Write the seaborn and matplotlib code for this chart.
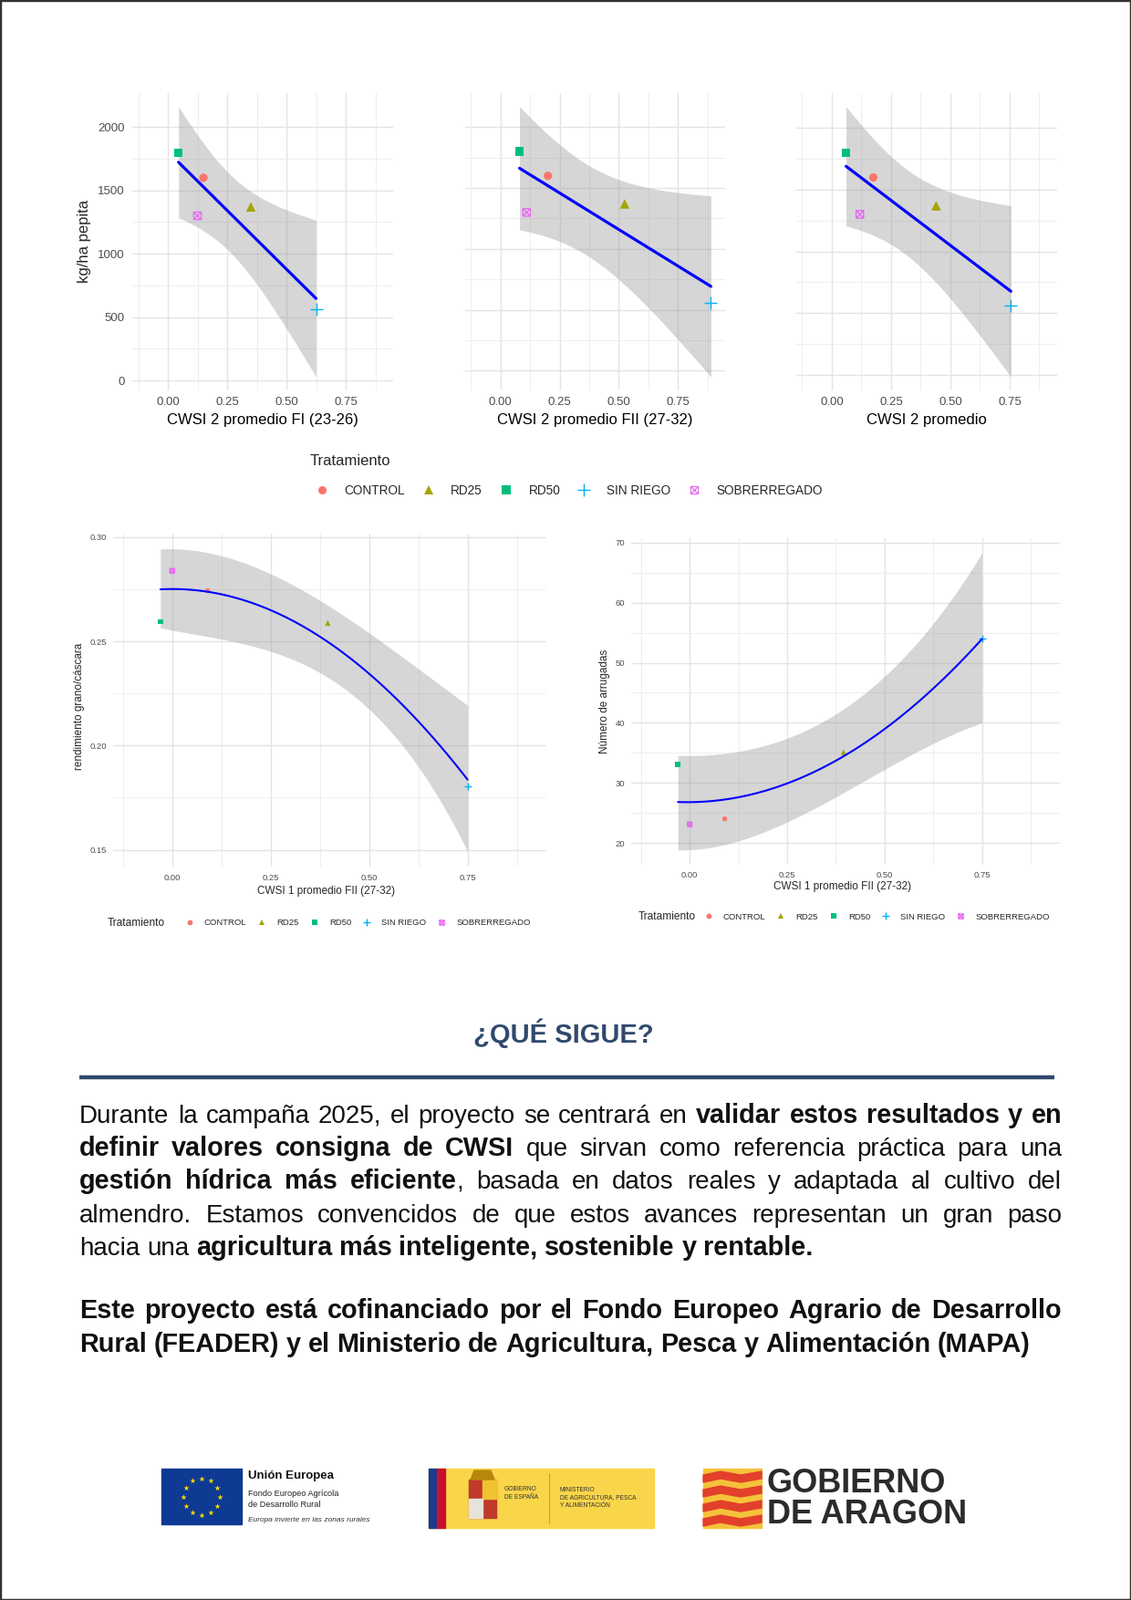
import numpy as np
import matplotlib
matplotlib.use('Agg')
import matplotlib.pyplot as plt
import seaborn as sns
from matplotlib.path import Path
from matplotlib.lines import Line2D
from matplotlib.patches import Rectangle, Polygon

sns.set_theme(style='white')
plt.rcParams['font.family'] = ['Liberation Sans', 'DejaVu Sans']

W, H = 1240, 1754

# datos por tratamiento
tratamientos = ['CONTROL', 'RD25', 'RD50', 'SIN RIEGO', 'SOBRERREGADO']
colores = ['#F8766D', '#A3A500', '#00BF7D', '#00B0F6', '#E76BF3']

kg_ha_pepita = [1600, 1370, 1800, 560, 1300]
cwsi2_fi = [0.15, 0.35, 0.045, 0.625, 0.125]
cwsi2_fii = [0.20, 0.525, 0.08, 0.89, 0.11]
cwsi2_prom = [0.175, 0.44, 0.06, 0.755, 0.118]

cwsi1_fii = [0.09, 0.395, -0.03, 0.75, 0.0]
rend_grano = [0.2743, 0.2588, 0.2594, 0.1803, 0.2838]
n_arrugadas = [24.0, 35.1, 33.1, 54.0, 23.1]

# curvas de ajuste (polinomio grado 2) y su banda
x_curva = [-0.03, 0.0, 0.125, 0.25, 0.375, 0.5, 0.625, 0.75]
rend_ajuste = [0.2750, 0.2750, 0.2725, 0.2649, 0.2522, 0.2347, 0.2114, 0.1837]
rend_inf = [0.2555, 0.2555, 0.2533, 0.2446, 0.2330, 0.2170, 0.1924, 0.1481]
rend_sup = [0.2943, 0.2943, 0.2910, 0.2823, 0.2700, 0.2533, 0.2373, 0.2192]
arr_ajuste = [26.8, 26.75, 27.65, 30.0, 33.65, 38.9, 45.65, 54.0]
arr_inf = [18.9, 18.9, 20.15, 23.4, 27.9, 32.4, 36.15, 40.15]
arr_sup = [34.5, 34.6, 35.15, 37.65, 41.4, 47.4, 56.9, 68.15]

# marcador cuadrado con aspa (shape 7 de ggplot)
caja_x = Path([(-1, -1), (1, -1), (1, 1), (-1, 1), (-1, -1), (-1, -1), (1, 1), (-1, 1), (1, -1)],
              [Path.MOVETO, Path.LINETO, Path.LINETO, Path.LINETO, Path.LINETO,
               Path.MOVETO, Path.LINETO, Path.MOVETO, Path.LINETO])
marcadores = ['o', '^', 's', '+', caja_x]

T975 = {2: 4.303, 3: 3.182}

fig = plt.figure(figsize=(W / 100, H / 100), dpi=100)
fig.patch.set_facecolor('white')


def caja(x0, y0, x1, y1):
    return [x0 / W, 1 - y1 / H, (x1 - x0) / W, (y1 - y0) / H]


def ajuste_lineal(x, y, n=120):
    x = np.asarray(x, float)
    y = np.asarray(y, float)
    X = np.vander(x, 2)
    coef = np.linalg.lstsq(X, y, rcond=None)[0]
    gl = len(x) - 2
    res = y - X @ coef
    cov = (res @ res / gl) * np.linalg.inv(X.T @ X)
    xs = np.linspace(x.min(), x.max(), n)
    Xs = np.vander(xs, 2)
    pred = Xs @ coef
    se = np.sqrt(np.einsum('ij,jk,ik->i', Xs, cov, Xs))
    return xs, pred, pred - T975[gl] * se, pred + T975[gl] * se


def suavizar(xc, ajuste, inf, sup, n=120):
    # curva y banda leídas, alisadas con un polinomio
    xs = np.linspace(min(xc), max(xc), n)
    return (xs,
            np.polyval(np.polyfit(xc, ajuste, 2), xs),
            np.polyval(np.polyfit(xc, inf, 3), xs),
            np.polyval(np.polyfit(xc, sup, 3), xs))


def puntos(ax, xs, ys, s):
    for c, m, xv, yv in zip(colores, marcadores, xs, ys):
        if m == '+':
            ax.scatter([xv], [yv], marker='+', color=c, s=s * 2.4, linewidths=1.0, zorder=3)
        elif m is caja_x:
            ax.scatter([xv], [yv], marker=caja_x, facecolors='none', edgecolors=c,
                       s=s * 0.8, linewidths=1.0, zorder=3)
        else:
            sns.scatterplot(x=[xv], y=[yv], marker=m, color=c, s=s * (1.3 if m == '^' else 1.0),
                            edgecolor='none', ax=ax, zorder=3, legend=False)


def panel(ax, x, y, curva, lw, s, ymaj, ymin, fs_tick, pad_y, pad_x, etiquetas_y=True, fmt='{:.0f}'):
    xs, pred, lo, hi = [np.asarray(v, float) for v in curva]
    ax.fill_between(xs, lo, hi, color='#999999', alpha=0.4, lw=0, zorder=1)
    puntos(ax, x, y, s)
    sns.lineplot(x=xs, y=pred, color='#0000FF', lw=lw, ax=ax, zorder=4)
    a = min(lo.min(), min(y))
    b = max(hi.max(), max(y))
    pad = 0.05 * (b - a)
    ax.set_ylim(a - pad, b + pad)
    ax.set_xlim(-0.15, 0.95)
    ax.set_xticks([0, 0.25, 0.5, 0.75])
    ax.set_xticklabels(['0.00', '0.25', '0.50', '0.75'])
    ax.set_xticks([-0.125, 0.125, 0.375, 0.625, 0.875], minor=True)
    ax.set_yticks(ymaj)
    ax.set_yticklabels([fmt.format(v) for v in ymaj])
    ax.set_yticks(ymin, minor=True)
    ax.grid(which='major', color='#e4e4e4', lw=1.0)
    ax.grid(which='minor', color='#eeeeee', lw=0.7)
    ax.set_axisbelow(True)
    for sp in ax.spines.values():
        sp.set_visible(False)
    ax.set_facecolor('white')
    ax.tick_params(which='both', length=0, labelsize=fs_tick, labelcolor='#4d4d4d')
    ax.tick_params(axis='y', pad=pad_y, labelleft=etiquetas_y)
    ax.tick_params(axis='x', pad=pad_x)
    ax.set_xlabel('')
    ax.set_ylabel('')


def manejadores(ms):
    hs = []
    for c, m in zip(colores, marcadores):
        if m == '+':
            hs.append(Line2D([], [], marker='+', color=c, linestyle='', markersize=ms * 1.5, markeredgewidth=1.0))
        elif m is caja_x:
            hs.append(Line2D([], [], marker=caja_x, color=c, markerfacecolor='none', linestyle='',
                             markersize=ms * 0.9, markeredgewidth=0.9))
        else:
            hs.append(Line2D([], [], marker=m, color=c, linestyle='', markersize=ms, markeredgewidth=0))
    return hs


# ---- fila superior: kg/ha pepita ----
superiores = [(145, 431, cwsi2_fi, 'CWSI 2 promedio FI (23-26)'),
              (510, 795, cwsi2_fii, 'CWSI 2 promedio FII (27-32)'),
              (873, 1159, cwsi2_prom, 'CWSI 2 promedio')]
for i, (x0, x1, xv, etiqueta) in enumerate(superiores):
    ax = fig.add_axes(caja(x0, 102, x1, 428))
    panel(ax, xv, kg_ha_pepita, ajuste_lineal(xv, kg_ha_pepita), 2.3, 44,
          [0, 500, 1000, 1500, 2000], [250, 750, 1250, 1750], 9.5, 6, 5, etiquetas_y=(i == 0))
    fig.text((x0 + x1) / 2 / W, 1 - 460 / H, etiqueta, ha='center', va='center', fontsize=12, color='black')
fig.text(93 / W, 1 - 264 / H, 'kg/ha pepita', rotation=90, ha='center', va='center', fontsize=12)

fig.text(340 / W, 1 - 506 / H, 'Tratamiento', ha='left', va='center', fontsize=12)
fig.legend(manejadores(6.5), tratamientos, ncol=5, loc='center left', bbox_to_anchor=(346 / W, 1 - 538 / H),
           frameon=False, fontsize=9.8, handlelength=1.0, handletextpad=1.3, columnspacing=1.4,
           borderpad=0, borderaxespad=0)

# ---- fila inferior ----
ax4 = fig.add_axes(caja(124, 585, 599, 950))
panel(ax4, cwsi1_fii, rend_grano, suavizar(x_curva, rend_ajuste, rend_inf, rend_sup), 1.5, 16,
      [0.15, 0.20, 0.25, 0.30], [0.175, 0.225, 0.275], 6.8, 5, 6, fmt='{:.2f}')
fig.text(358 / W, 1 - 977 / H, 'CWSI 1 promedio FII (27-32)', ha='center', va='center', fontsize=8.5)
fig.text(87 / W, 1 - 774 / H, 'rendimiento grano/cáscara', rotation=90, ha='center', va='center', fontsize=8.5)

ax5 = fig.add_axes(caja(692, 590, 1162, 948))
panel(ax5, cwsi1_fii, n_arrugadas, suavizar(x_curva, arr_ajuste, arr_inf, arr_sup), 1.5, 16,
      [20, 30, 40, 50, 60, 70], [25, 35, 45, 55, 65], 6.8, 5, 5)
fig.text(924 / W, 1 - 972 / H, 'CWSI 1 promedio FII (27-32)', ha='center', va='center', fontsize=8.5)
fig.text(663 / W, 1 - 769 / H, 'Número de arrugadas', rotation=90, ha='center', va='center', fontsize=8.5)

for xt, xl, yl in [(118, 203, 1012), (700, 772, 1005)]:
    fig.text(xt / W, 1 - yl / H, 'Tratamiento', ha='left', va='center', fontsize=8.6)
    fig.legend(manejadores(4.2), tratamientos, ncol=5, loc='center left', bbox_to_anchor=(xl / W, 1 - yl / H),
               frameon=False, fontsize=6.8, handlelength=1.0, handletextpad=1.2, columnspacing=1.3,
               borderpad=0, borderaxespad=0)

# ---- texto y logotipos ----
deco = fig.add_axes([0, 0, 1, 1], zorder=-1)
deco.set_xlim(0, W)
deco.set_ylim(H, 0)
deco.axis('off')
deco.patch.set_alpha(0)

azul = '#30496c'
deco.text(618, 1133, '¿QUÉ SIGUE?', ha='center', va='center', fontsize=21, fontweight='bold', color=azul)
deco.plot([87, 1156], [1181, 1181], color=azul, lw=3.2, solid_capstyle='butt')

parrafo = [
    "Durante la campaña 2025, el proyecto se centrará en **validar estos resultados y en**",
    "**definir valores consigna de CWSI** que sirvan como referencia práctica para una",
    "**gestión hídrica más eficiente**, basada en datos reales y adaptada al cultivo del",
    "almendro. Estamos convencidos de que estos avances representan un gran paso",
    "hacia una **agricultura más inteligente, sostenible y rentable.**",
]
financiacion = [
    "**Este proyecto está cofinanciado por el Fondo Europeo Agrario de Desarrollo**",
    "**Rural (FEADER) y el Ministerio de Agricultura, Pesca y Alimentación (MAPA)**",
]


def palabras(linea):
    out = []
    nueva = True
    for k, parte in enumerate(linea.split('**')):
        negrita = k % 2 == 1
        for j, tr in enumerate(parte.split(' ')):
            if j > 0:
                nueva = True
            if tr == '':
                continue
            if nueva or not out:
                out.append([(tr, negrita)])
                nueva = False
            else:
                out[-1].append((tr, negrita))
    return out


renderer = fig.canvas.get_renderer()
FS_REG, FS_BOLD = 20, 20.8


def estilo(negrita):
    return dict(fontsize=FS_BOLD if negrita else FS_REG, fontweight='bold' if negrita else 'normal')


def ancho(txt, negrita):
    t = deco.text(0, 0, txt, **estilo(negrita))
    w = t.get_window_extent(renderer).width
    t.remove()
    return w


esp = ancho('n n', False) - ancho('nn', False)


def linea_texto(linea, y, justificar, x0=87, x1=1164):
    ws = palabras(linea)
    anchos = [[ancho(f, b) for f, b in w] for w in ws]
    total = sum(sum(a) for a in anchos)
    hueco = (x1 - x0 - total) / (len(ws) - 1) if justificar else esp
    x = x0
    for w, a in zip(ws, anchos):
        for (f, b), af in zip(w, a):
            deco.text(x, y, f, color='#111111', ha='left', va='baseline', **estilo(b))
            x += af
        x += hueco


for k, ln in enumerate(parrafo):
    linea_texto(ln, 1231 + k * 36.2, k < len(parrafo) - 1)
for k, ln in enumerate(financiacion):
    linea_texto(ln, 1445 + k * 36.5, k == 0)

# logo Unión Europea
deco.add_patch(Rectangle((177, 1610), 88, 61, color='#0e3a94'))
ang = np.linspace(0, 2 * np.pi, 13)[:-1]
deco.scatter(221 + 20 * np.cos(ang), 1640.5 + 20 * np.sin(ang), marker='*', s=22, color='#ffdd00', lw=0)
deco.text(272, 1618, 'Unión Europea', fontsize=9.5, fontweight='bold', va='center', color='#111111')
deco.text(272, 1638, 'Fondo Europeo Agrícola', fontsize=6.6, va='center', color='#222222')
deco.text(272, 1649, 'de Desarrollo Rural', fontsize=6.6, va='center', color='#222222')
deco.text(272, 1667, 'Europa invierte en las zonas rurales', fontsize=6, style='italic', va='center', color='#333333')

# logo Gobierno de España
deco.add_patch(Rectangle((470, 1610), 247, 65, color='#f9d54a'))
deco.add_patch(Rectangle((470, 1610), 9, 65, color='#1b3b8f'))
deco.add_patch(Rectangle((479, 1610), 9, 65, color='#c8102e'))
deco.add_patch(Rectangle((514, 1622), 30, 42, color='#c0392b'))
deco.add_patch(Rectangle((529, 1622), 15, 21, color='#f1c232'))
deco.add_patch(Rectangle((514, 1643), 15, 21, color='#e8e3d8'))
deco.add_patch(Polygon([(516, 1622), (520, 1612), (538, 1612), (542, 1622)], color='#b8860b'))
deco.plot([602, 602], [1615, 1670], color='#d9a400', lw=0.8)
deco.text(553, 1637, 'GOBIERNO\nDE ESPAÑA', fontsize=4.8, va='center', color='#333333', linespacing=1.3)
deco.text(614, 1642, 'MINISTERIO\nDE AGRICULTURA, PESCA\nY ALIMENTACIÓN', fontsize=4.8, va='center',
          color='#333333', linespacing=1.3)

# logo Gobierno de Aragón
deco.add_patch(Rectangle((771, 1610), 64, 65, color='#f5c23a'))
for k in range(4):
    y0 = 1613 + k * 16
    deco.add_patch(Polygon([(771, y0 + 4), (790, y0), (812, y0 + 4), (835, y0),
                            (835, y0 + 8), (812, y0 + 12), (790, y0 + 8), (771, y0 + 12)], color='#e2402b'))
deco.text(841, 1626, 'GOBIERNO', fontsize=26, fontweight='bold', va='center', color='#2b2b2b')
deco.text(841, 1661, 'DE ARAGON', fontsize=26, fontweight='bold', va='center', color='#2b2b2b')

# borde de la página
fig.patches.append(Rectangle((0, 0), 1, 1, transform=fig.transFigure, fill=False,
                             edgecolor='#333333', lw=2.5))

fig.savefig('out.png', dpi=100)
